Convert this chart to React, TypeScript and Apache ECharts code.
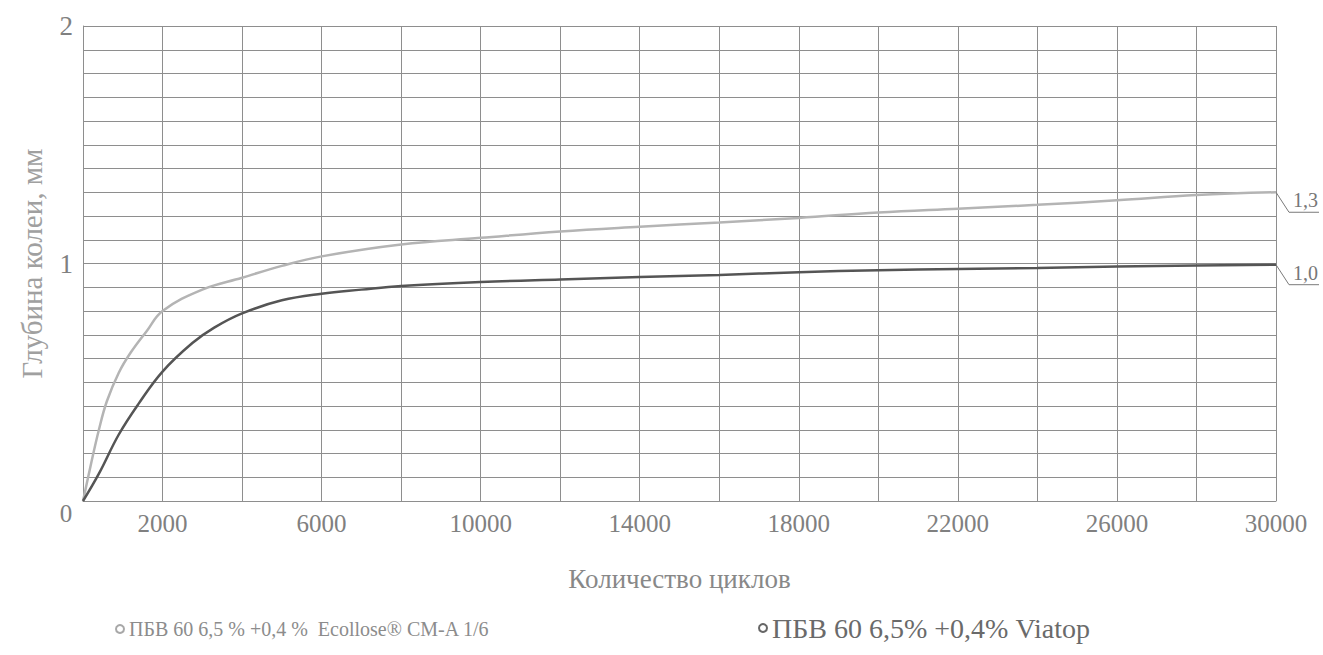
import React, { useEffect, useRef } from 'react';
import * as echarts from 'echarts';

const seriesNames = ['ПБВ 60 6,5 % +0,4 %  Ecollose® CM-A 1/6', 'ПБВ 60 6,5% +0,4% Viatop'];
const seriesColors = ['#b4b4b4', '#555555'];

const ecolloseCycles = [0, 200, 400, 600, 900, 1200, 1600, 2000, 3000, 4000, 5000, 6000, 8000, 10000, 12000, 14000, 16000, 18000, 20000, 22000, 24000, 26000, 28000, 30000];
const ecolloseDepth = [0, 0.155, 0.3, 0.42, 0.54, 0.625, 0.715, 0.8, 0.89, 0.94, 0.99, 1.03, 1.08, 1.108, 1.135, 1.155, 1.173, 1.192, 1.215, 1.231, 1.247, 1.266, 1.288, 1.3];

const viatopCycles = [0, 400, 900, 1400, 2000, 2750, 3300, 4000, 5000, 6000, 7000, 8000, 10000, 12000, 14000, 16000, 18000, 20000, 22000, 24000, 26000, 28000, 30000];
const viatopDepth = [0, 0.115, 0.28, 0.41, 0.545, 0.665, 0.73, 0.79, 0.845, 0.873, 0.89, 0.905, 0.922, 0.933, 0.943, 0.952, 0.963, 0.972, 0.977, 0.981, 0.987, 0.992, 0.995];

const endLabels = ['1,3', '1,0'];
const xTickLabels = [2000, 6000, 10000, 14000, 18000, 22000, 26000, 30000];
const yTickLabels = [1, 2];
const originLabel = '0';
const xAxisName = 'Количество циклов';
const yAxisName = 'Глубина колеи, мм';

const FONT = "'Liberation Serif', 'Times New Roman', serif";

export default function App() {
  const ref = useRef<HTMLDivElement>(null);
  useEffect(() => {
    if (!ref.current) return;
    const chart = echarts.init(ref.current, undefined, { renderer: 'svg' });
    const ecollose = ecolloseCycles.map((c, i) => [c, ecolloseDepth[i]]);
    const viatop = viatopCycles.map((c, i) => [c, viatopDepth[i]]);
    const gridColor = '#8e8e8e';
    chart.setOption({
      animation: false,
      backgroundColor: '#ffffff',
      textStyle: { fontFamily: FONT },
      grid: { left: 83, right: 47, top: 26, bottom: 154 },
      legend: [
        {
          data: [{ name: seriesNames[0], textStyle: { color: '#8c8c8c' }, itemStyle: { color: '#fff', borderColor: '#a8a8a8', borderWidth: 2 } }],
          left: 110, top: 614, icon: 'circle', itemWidth: 8, itemHeight: 8, itemGap: 8,
          textStyle: { fontFamily: FONT, fontSize: 20, color: '#8c8c8c' },
        },
        {
          data: [{ name: seriesNames[1], textStyle: { color: '#6a6a6a' }, itemStyle: { color: '#fff', borderColor: '#666', borderWidth: 2 } }],
          left: 753, top: 609, icon: 'circle', itemWidth: 8, itemHeight: 8, itemGap: 9,
          textStyle: { fontFamily: FONT, fontSize: 28, color: '#6a6a6a' },
        },
      ],
      xAxis: {
        type: 'value', min: 0, max: 30000, interval: 2000,
        name: xAxisName, nameLocation: 'middle', nameGap: 64,
        nameTextStyle: { fontFamily: FONT, fontSize: 27, color: '#888' },
        axisLine: { show: true, lineStyle: { color: gridColor, width: 1 } },
        axisTick: { show: false },
        axisLabel: {
          fontFamily: FONT, fontSize: 25, color: '#808080', margin: 10,
          formatter: (v: number) => (xTickLabels.includes(v) ? String(v) : ''),
        },
        splitLine: { show: true, lineStyle: { color: gridColor, width: 1 } },
      },
      yAxis: {
        type: 'value', min: 0, max: 2, interval: 0.1,
        name: yAxisName, nameLocation: 'middle', nameGap: 37, nameRotate: 90,
        nameTextStyle: { fontFamily: FONT, fontSize: 29, color: '#a0a0a0' },
        axisLine: { show: true, lineStyle: { color: gridColor, width: 1 } },
        axisTick: { show: false },
        axisLabel: {
          fontFamily: FONT, fontSize: 27, color: '#808080', margin: 10,
          formatter: (v: number) => {
            const m = yTickLabels.find((t) => Math.abs(t - v) < 1e-6);
            return m !== undefined ? String(m) : '';
          },
        },
        splitLine: { show: true, lineStyle: { color: gridColor, width: 1 } },
      },
      series: [
        {
          name: seriesNames[0], type: 'line', data: ecollose, smooth: 0.4,
          symbol: 'none', lineStyle: { color: seriesColors[0], width: 2.5 }, itemStyle: { color: seriesColors[0] },
        },
        {
          name: seriesNames[1], type: 'line', data: viatop, smooth: 0.4,
          symbol: 'none', lineStyle: { color: seriesColors[1], width: 2.5 }, itemStyle: { color: seriesColors[1] },
        },
      ],
    });

    const graphics: any[] = [];
    const ends = [ecollose[ecollose.length - 1], viatop[viatop.length - 1]];
    ends.forEach((pt, i) => {
      const p = chart.convertToPixel({ seriesIndex: i }, pt) as number[];
      graphics.push({
        type: 'polyline', silent: true,
        shape: { points: [[p[0], p[1]], [p[0] + 13, p[1] + 20], [p[0] + 43, p[1] + 20]] },
        style: { stroke: '#7a7a7a', lineWidth: 1, fill: null },
      });
      graphics.push({
        type: 'text', silent: true, x: p[0] + 17, y: p[1] + 18,
        style: { text: endLabels[i], fontFamily: FONT, fontSize: 20, fill: '#777', verticalAlign: 'bottom', align: 'left' },
      });
    });
    const o = chart.convertToPixel({ gridIndex: 0 }, [0, 0]) as number[];
    graphics.push({
      type: 'text', silent: true, x: o[0] - 17, y: o[1] + 12,
      style: { text: originLabel, fontFamily: FONT, fontSize: 25, fill: '#808080', verticalAlign: 'middle', align: 'center' },
    });
    chart.setOption({ graphic: graphics });

    return () => chart.dispose();
  }, []);
  return (
    <div
      ref={ref}
      style={{ position: 'fixed', left: 0, top: 0, width: '1323px', height: '655px', background: '#fff' }}
    />
  );
}
